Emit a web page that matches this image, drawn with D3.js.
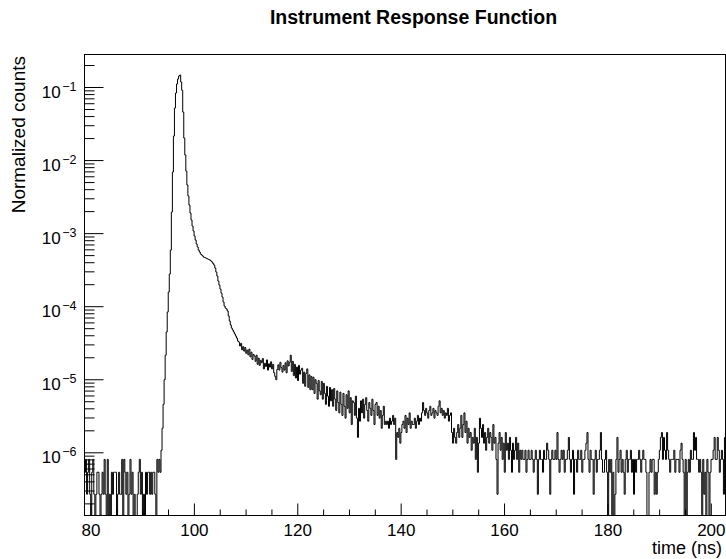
<!DOCTYPE html>
<html><head><meta charset="utf-8">
<script src="https://cdn.jsdelivr.net/npm/d3@7"></script>
<style>
body{margin:0;background:#fff}
svg{display:block}
text{font-family:"Liberation Sans",Arial,Helvetica,sans-serif;fill:#000}
</style>
</head><body>
<svg id="chart" width="726" height="559"></svg>
<script>
// ---- data (counts per 0.2 ns bin, normalized by total counts) ----
const xRange = [78.84, 202.84];      // ns, histogram range
const binWidth = 0.2;                // ns
const yRange = [1.365e-7, 0.2786];
const normalization = 2.667e-7;      // 1 / total counts

// bins 0-73: pre-pulse background
const preRiseCounts = [2,3,1,2,3,1,0,2,3,1, 0,1,2,2,1,0,1,2,1,3, 1,0,3,0,1,0,2,1,2,2,
  2,0,1,2,1,1,3,0,3,2, 1,2,0,1,3,1,2,0,1,0, 0,1,2,3,1,2,0,1,0,2, 1,2,2,1,2,1,2,2,1,0, 3,2,3,2];
// bins 74-149: rise, peak and shoulder
const peakCounts = [4,8,17,37,80,166,312,586,1033,2200,
  7290,25700,80000,193000,310000,412000,482000,530000,547000,439000,
  339000,170000,75000,44000,26500,17100,12100,9100,7080,5670,
  4690,4010,3420,3020,2660,2420,2200,2065,1940,1880,
  1820,1760,1735,1710,1680,1655,1630,1600,1555,1507,
  1438,1371,1248,1100,970,828,730,644,567,500,
  427,377,354,343,322,275,235,207,188,177,
  166,156,146,137,125,121];
// bins 150-199
const decayCounts = [107,116,95,105,91,102,85, 94,81,97,76,88,70,82, 78,66,80,60,73,58,68,
  63,72,52,62,56,69,50, 61,55,65,52,60,46,41, 37,51,59,50,64,54,47, 58,50,63,46,67,57,64, 80];
// bins 200-266
const slowTailCounts = [48,66,42,60,39,55,36,58,44,50, 53,33,47,30,45,52,29,43,27,41,
  27,40,24,37,33,20,36,26,23,35, 20,33,24,17,30,22,16,29,19,27, 16,28,20,14,26,18,13,25,17,12,
  24,16,11,23,15,26,13,21,9,19, 18,12,22,11,6,15,10];
// bins 267-421
const lateTailCounts = [19,13,20,11,17,21,14,10,18,15,12,20,14,9,17,18,12,16,11,
  14,8,12,16,9,10, 9,10,8,11,9,10,12,9,11, 3, 7,6,8,5,7,9,
  10,8,12,7,11,9,13,8,10,9, 9,11,8,10,12,9,11,10,13,18,
  14,12,15,13,11,14,16,12,13,15,11,14,13,12,16,19,13,15,12,14,11,13,12,15,10,12,13,
  7,5,8,6,5,7,9,6, 8,12,6,9,13,7,10,5,8,6,7,4,6,5,8,3,6,2,5,11,
  8,6,9,5,7,4,6,8,5,7,6,4,9,5,6,3, 1,
  5,7,4,6,3,5,2,7,4,5,3,6,4,2,5,3,4,6,3,5,2,4];
// bins 422-619: background floor
const floorCounts = [3,4,3,3,4,2,3,4,3,3, 4,3,2,3,4,3,1,3,4,3, 3,2,4,3,3,5,4,3,1,3,
  4,3,3,4,3,7,3,2,3,4, 3,4,2,3,3,4,6,3,2,3, 4,1,3,3,2,4,3,3,4,2,
  3,3,4,5,7,3,2,4,3,3, 1,3,4,2,3,3,4,7,3,2, 2,3,4,2,0,3,2,3,0,2,
  0,1,3,6,2,3,4,2,3,2, 1,3,4,2,3,3,4,2,3,1, 3,2,3,3,4,3,2,3,4,3,
  3,2,0,0,2,3,2,3,3,1, 2,1,2,3,4,6,7,3,6,4, 3,7,4,3,2,3,3,3,4,2,
  3,3,3,2,4,5,3,2,0,3, 0,2,3,2,4,3,3,7,4,6, 3,3,2,3,2,0,3,1,2,0,
  3,2,0,2,3,3,4,6,3,3, 6,4,2,3,4,3,1,6];

const xMajorTicks = [80, 100, 120, 140, 160, 180, 200];
const yDecadeExponents = [-1, -2, -3, -4, -5, -6];
const titleText = "Instrument Response Function";
const xTitle = "time (ns)";
const yTitle = "Normalized counts";

// ---- layout ----
const frame = {left: 84.5, right: 725.5, top: 54.5, bottom: 515.5};
const svg = d3.select("#chart");
const x = d3.scaleLinear().domain(xRange).range([frame.left, frame.right]);
const y = d3.scaleLog().domain(yRange).range([frame.bottom, frame.top]);

svg.append("rect").attr("width", 726).attr("height", 559).attr("fill", "#fff");

svg.append("defs").append("clipPath").attr("id", "clip")
  .append("rect").attr("x", frame.left).attr("y", frame.top)
  .attr("width", frame.right - frame.left).attr("height", frame.bottom - frame.top);

// histogram
const counts = [].concat(preRiseCounts, peakCounts, decayCounts, slowTailCounts, lateTailCounts, floorCounts);
const bins = counts.map((c, i) => ({t: xRange[0] + i * binWidth, v: c * normalization}));
bins.push({t: xRange[0] + counts.length * binWidth, v: bins[bins.length - 1].v});
const yOf = v => v > yRange[0] ? y(v) : frame.bottom;
const line = d3.line().x(d => x(d.t)).y(d => yOf(d.v)).curve(d3.curveStepAfter);
svg.append("path").attr("clip-path", "url(#clip)")
  .attr("d", line(bins)).attr("fill", "none").attr("stroke", "#000").attr("stroke-width", 1);

// x axis
const xMinor = d3.range(80, 203, 5).filter(t => !xMajorTicks.includes(t) && t <= xRange[1]);
const xAxisG = svg.append("g").attr("transform", `translate(0,${frame.bottom})`);
xAxisG.append("g").call(d3.axisBottom(x).tickValues(xMinor).tickSize(-6).tickFormat(""));
xAxisG.append("g").call(d3.axisBottom(x).tickValues(xMajorTicks).tickSize(-12).tickPadding(8.5).tickFormat(d3.format("d")));
xAxisG.selectAll(".domain").remove();
xAxisG.selectAll("text").attr("font-size", 17).attr("font-family", null);
xAxisG.selectAll("line").attr("stroke", "#000");

// y axis
const yMajor = yDecadeExponents.map(e => Math.pow(10, e));
const yMinor = [];
for (let e = -7; e <= -1; e++) for (let k = 2; k <= 9; k++) {
  const v = k * Math.pow(10, e);
  if (v >= yRange[0] && v <= yRange[1]) yMinor.push(v);
}
const yAxisG = svg.append("g").attr("transform", `translate(${frame.left},0)`);
yAxisG.append("g").call(d3.axisLeft(y).tickValues(yMinor).tickSize(-10).tickFormat(""));
yAxisG.append("g").call(d3.axisLeft(y).tickValues(yMajor).tickSize(-19).tickPadding(8).tickFormat(""));
yAxisG.selectAll(".domain").remove();
yAxisG.selectAll("line").attr("stroke", "#000");
yAxisG.selectAll(".tick").filter(d => yMajor.includes(d)).select("text")
  .attr("font-family", null).attr("dy", null).attr("y", 10)
  .each(function(d) {
    const t = d3.select(this);
    t.append("tspan").attr("font-size", 17).text("10");
    t.append("tspan").attr("font-size", 12.5).attr("dx", 1.5).attr("dy", -7)
      .text("\u2212" + Math.abs(Math.round(Math.log10(d))));
  });

// frame
svg.append("rect").attr("x", frame.left).attr("y", frame.top)
  .attr("width", frame.right - frame.left).attr("height", frame.bottom - frame.top)
  .attr("fill", "none").attr("stroke", "#000").attr("stroke-width", 1);

// titles
svg.append("text").attr("x", 413.5).attr("y", 24).attr("text-anchor", "middle")
  .attr("font-size", 19.5).attr("font-weight", "bold").text(titleText);
svg.append("text").attr("x", 722).attr("y", 554).attr("text-anchor", "end")
  .attr("font-size", 18).text(xTitle);
svg.append("text").attr("transform", "translate(25,56) rotate(-90)").attr("text-anchor", "end")
  .attr("font-size", 19).text(yTitle);
</script>
</body></html>
